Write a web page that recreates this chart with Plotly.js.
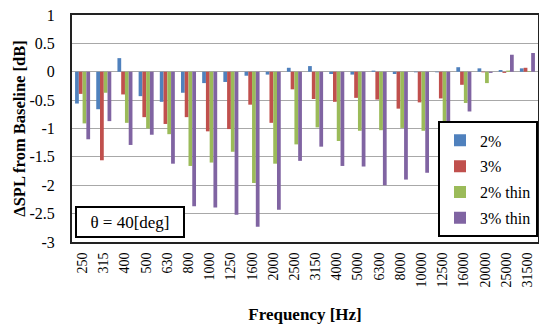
<!DOCTYPE html>
<html>
<head>
<meta charset="utf-8">
<script src="https://cdn.plot.ly/plotly-3.0.1.min.js"></script>
<style>html,body{margin:0;padding:0;background:#fff;}#chart{width:539px;height:327px;}</style>
</head>
<body>
<div id="chart"></div>
<script>
var categories = ['250','315','400','500','630','800','1000','1250','1600','2000','2500','3150','4000','5000','6300','8000','10000','12500','16000','20000','25000','31500'];
var series2 = [-0.56,-0.66,0.24,-0.43,-0.53,-0.37,-0.20,-0.18,-0.07,-0.05,0.07,0.10,-0.04,-0.05,0.02,-0.04,-0.01,-0.01,0.08,0.06,0.03,0.06];
var series3 = [-0.39,-1.56,-0.40,-0.80,-0.92,-0.80,-1.05,-1.01,-0.58,-0.90,-0.31,-0.48,-0.53,-0.46,-0.49,-0.65,-0.54,-0.47,-0.23,-0.01,-0.02,0.07];
var series2thin = [-0.91,-0.37,-0.90,-1.00,-1.10,-1.66,-1.60,-1.41,-1.96,-1.62,-1.28,-0.98,-1.22,-1.04,-1.03,-0.99,-1.04,-0.87,-0.55,-0.20,0.02,0.01];
var series3thin = [-1.19,-0.87,-1.29,-1.11,-1.62,-2.37,-2.39,-2.52,-2.73,-2.43,-1.57,-1.32,-1.66,-1.67,-2.00,-1.90,-1.78,-1.39,-0.70,-0.02,0.30,0.33];
var seriesNames = ['2%','3%','2% thin','3% thin'];
var seriesColors = ['#4F81BD','#C0504D','#9BBB59','#8064A2'];
var yTickVals = [1,0.5,0,-0.5,-1,-1.5,-2,-2.5,-3];
var yTickText = ['1','0.5','0','-0.5','-1','-1.5','-2','-2.5','-3'];

var allSeries = [series2, series3, series2thin, series3thin];
var traces = allSeries.map(function(vals, i){
  return {type:'bar', x:categories, y:vals, name:seriesNames[i], legendgroup:'g'+i,
          marker:{color:seriesColors[i]}};
});
var serif = 'Liberation Serif';
var layout = {
  width:539, height:327,
  margin:{l:72, r:1, t:15, b:85},
  paper_bgcolor:'#fff', plot_bgcolor:'#fff',
  barmode:'group', bargap:0.29, bargroupgap:0,
  font:{family:serif, color:'#000'},
  xaxis:{type:'category', tickangle:-90, showgrid:false, zeroline:false,
         showline:true, mirror:true, linecolor:'#222', linewidth:2, ticks:'', ticklabelstandoff:3,
         tickfont:{family:serif, size:14, color:'#000'},
         title:{text:'<b>Frequency [Hz]</b>', font:{family:serif, size:17, color:'#000'}, standoff:22}},
  yaxis:{range:[-3,1], tickvals:yTickVals, ticktext:yTickText, showgrid:true, gridcolor:'#a8a8a8', gridwidth:1,
         zeroline:false, showline:true, mirror:true, linecolor:'#222', linewidth:2, ticks:'', ticklabelstandoff:12,
         tickfont:{family:serif, size:16, color:'#000'},
         title:{text:'<b>ΔSPL from Baseline [dB]</b>', font:{family:serif, size:16.5, color:'#000'}, standoff:0}},
  legend:{x:1, xanchor:'right', y:0.02, yanchor:'bottom', bordercolor:'#000', borderwidth:2, bgcolor:'#fff',
          font:{family:serif, size:16, color:'#000'}, traceorder:'grouped', tracegroupgap:2, itemwidth:30},
  annotations:[{xref:'paper', yref:'paper', x:0.006, y:0.016, xanchor:'left', yanchor:'bottom',
    text:'θ = 40[deg]', showarrow:false, bordercolor:'#000', borderwidth:2, bgcolor:'#fff',
    width:104, height:26, font:{family:serif, size:17, color:'#000'}}]
};
Plotly.newPlot('chart', traces, layout, {displayModeBar:false, staticPlot:true});
</script>
</body>
</html>
